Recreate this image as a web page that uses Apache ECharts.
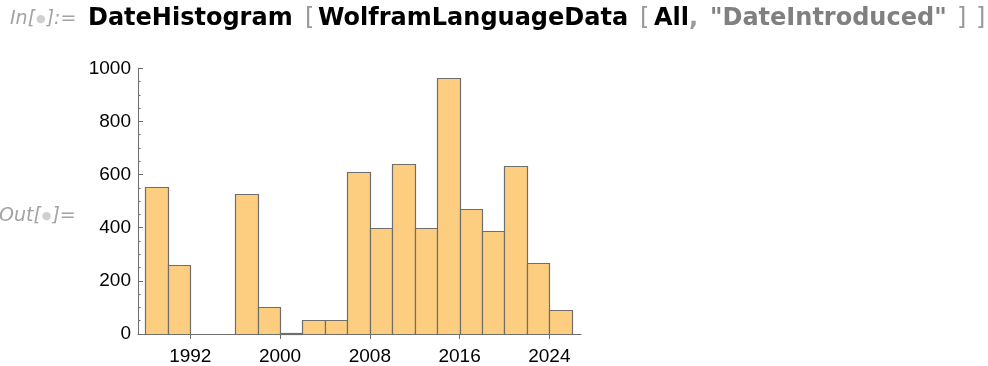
<!DOCTYPE html>
<html>
<head>
<meta charset="utf-8">
<script src="https://cdn.jsdelivr.net/npm/echarts@6/dist/echarts.min.js"></script>
<style>
html,body{margin:0;padding:0;background:#fff;}
#chart{width:988px;height:366px;}
</style>
</head>
<body>
<div id="chart"></div>
<script>
// Bin starts (years), each bin spans 2 years
const binStarts = [1988,1990,1992,1994,1996,1998,2000,2002,2004,2006,2008,2010,2012,2014,2016,2018,2020,2022,2024];
const binWidthYears = 2;
const counts = [555,259,0,0,528,101,4,53,53,611,400,638,400,962,472,389,634,268,91];
const xTickYears = [1992,2000,2008,2016,2024];
const yTicks = [0,200,400,600,800,1000];

const data = binStarts.map((s,i)=>[s, s+binWidthYears, counts[i]]);

const chart = echarts.init(document.getElementById('chart'), null, {renderer:'canvas'});
const axisColor = '#6d6d6d';
const labelFont = '"Liberation Sans", Arial, sans-serif';
const codeFont = '"DejaVu Sans", sans-serif';
const promptFont = 'italic 19px "DejaVu Sans", sans-serif';

function promptText(label){
  return {
    text: label + '[{b|\u25CF}]' + (label === 'In' ? ':=' : '='),
    fill:'#a3a3a3', font: promptFont,
    rich:{ b:{ fill:'#d0d0d0', fontSize:11, fontFamily:'"DejaVu Sans", sans-serif', fontStyle:'normal', verticalAlign:'middle', padding:[0,1,0,1] } }
  };
}

chart.setOption({
  animation:false,
  backgroundColor:'#ffffff',
  grid:{left:138, right:407, top:68.3, bottom:31.5, containLabel:false},
  xAxis:{
    type:'value', min:1987.34, max:2026.82,
    axisLine:{show:true, onZero:false, lineStyle:{color:axisColor, width:1}},
    axisTick:{show:true, customValues:xTickYears, length:5, inside:false, lineStyle:{color:axisColor}},
    axisLabel:{show:true, customValues:xTickYears, color:'#000', fontSize:19, fontFamily:labelFont, margin:13,
      formatter:(v)=>String(v)},
    splitLine:{show:false}
  },
  yAxis:{
    type:'value', min:0, max:1000, interval:200,
    axisLine:{show:true, lineStyle:{color:axisColor, width:1}},
    axisTick:{show:true, inside:true, length:5, lineStyle:{color:axisColor}},
    minorTick:{show:true, splitNumber:4, length:2.5, lineStyle:{color:axisColor}},
    axisLabel:{show:true, color:'#000', fontSize:19, fontFamily:labelFont, margin:7,
      formatter:(v)=> yTicks.includes(v) ? String(v) : ''},
    splitLine:{show:false}
  },
  series:[{
    type:'custom',
    data:data,
    encode:{x:[0,1], y:2},
    clip:false,
    renderItem:function(params, api){
      const v = api.value(2);
      if (!v) return null;
      const p0 = api.coord([api.value(0), 0]);
      const p1 = api.coord([api.value(1), v]);
      const x0 = Math.round(p0[0]) + 0.5, x1 = Math.round(p1[0]) + 0.5;
      const y0 = Math.round(p0[1]) + 0.5, y1 = Math.round(p1[1]) + 0.5;
      return {
        type:'rect',
        shape:{x:x0, y:y1, width:x1-x0, height:y0-y1},
        style:{fill:'#FDCE7F', stroke:'#6e6e6e', lineWidth:1.2}
      };
    }
  }],
  graphic:[
    {type:'text', left:10, top:10, style:promptText('In')},
    {type:'text', left:88, top:7, style:{text:'DateHistogram', fill:'#000', font:'bold 24px '+codeFont}},
    {type:'text', left:305, top:7, style:{text:'[', fill:'#9a9a9a', font:'24px '+codeFont}},
    {type:'text', left:318, top:7, style:{text:'WolframLanguageData', fill:'#000', font:'bold 24px '+codeFont}},
    {type:'text', left:640, top:7, style:{text:'[', fill:'#9a9a9a', font:'24px '+codeFont}},
    {type:'text', left:654, top:7, style:{text:'All', fill:'#000', font:'bold 24px '+codeFont}},
    {type:'text', left:689, top:7, style:{text:',', fill:'#9a9a9a', font:'bold 24px '+codeFont}},
    {type:'text', left:710, top:7, style:{text:'"DateIntroduced"', fill:'#808080', font:'bold 24px '+codeFont}},
    {type:'text', left:957, top:7, style:{text:']', fill:'#9a9a9a', font:'24px '+codeFont}},
    {type:'text', left:976, top:7, style:{text:']', fill:'#9a9a9a', font:'24px '+codeFont}},
    {type:'text', left:-1, top:207, style:promptText('Out')}
  ]
});
</script>
</body>
</html>
